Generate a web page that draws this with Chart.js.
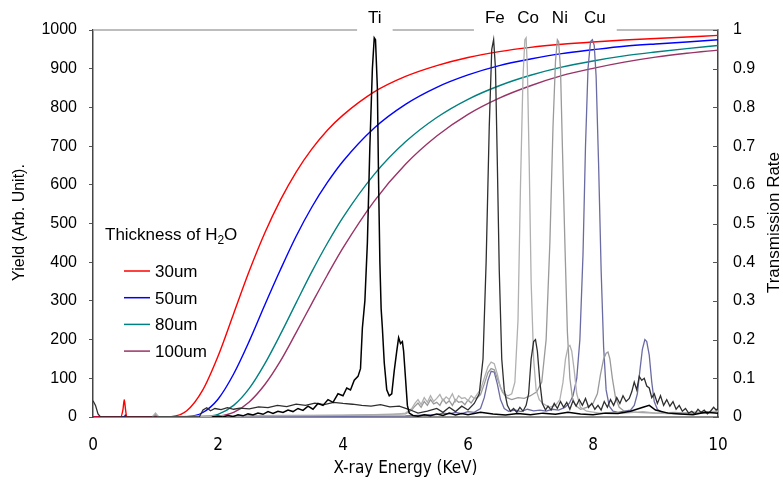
<!DOCTYPE html>
<html><head><meta charset="utf-8">
<script src="https://cdn.jsdelivr.net/npm/chart.js@4.4.1/dist/chart.umd.min.js"></script>
<style>html,body{margin:0;padding:0;background:#fff;}#wrap{width:783px;height:488px;}</style>
</head><body><div id="wrap"><canvas id="c" width="783" height="488"></canvas></div>
<script>
// ---------- DATA ----------
const energyGrid = [0,0.44,0.48,0.5,0.52,0.54,1.0,1.25,1.5,1.75,2.0,2.25,2.5,2.75,3.0,3.25,3.5,3.75,4.0,4.5,5.0,5.5,6.0,6.5,7.0,7.5,8.0,8.5,9.0,9.5,10];
const trans30  = [0,0,0.02,0.045,0.02,0, 0,0.001,0.016,0.068, 0.157,0.267,0.377,0.476,0.561,0.633,0.692,0.741,0.780, 0.840,0.880,0.908,0.929,0.944,0.955,0.963,0.969,0.974,0.978,0.982,0.986];
const trans50  = [0,0,0,0,0.005,0, 0,0,0.001,0.011, 0.046,0.111,0.196,0.290,0.381,0.467,0.542,0.606,0.661, 0.747,0.808,0.852,0.884,0.908,0.925,0.939,0.949,0.958,0.964,0.969,0.975];
const trans80  = [0,0,0,0,0,0, 0,0,0,0.001, 0.007,0.030,0.074,0.138,0.214,0.295,0.375,0.449,0.516, 0.627,0.711,0.774,0.821,0.856,0.883,0.904,0.920,0.933,0.943,0.952,0.960];
const trans100 = [0,0,0,0,0,0, 0,0,0,0, 0.002,0.012,0.039,0.084,0.145,0.218,0.293,0.367,0.437, 0.558,0.653,0.726,0.782,0.824,0.856,0.882,0.901,0.917,0.930,0.940,0.948];
const thicknessLabels = ['30um','50um','80um','100um'];

const tiE = [1.90,2.00,2.08,2.16,2.24,2.32,2.40,2.48,2.56,2.64,2.72,2.80,2.88,2.96,3.04,3.12,3.20,3.28,3.36,3.44,3.52,3.60,3.68,3.76,3.84,3.92,4.00,4.06,4.12,4.18,4.24,4.28,4.31,4.35,4.39,4.43,4.47,4.50,4.52,4.55,4.57,4.59,4.61,4.63,4.66,4.70,4.74,4.78,4.82,4.86,4.89,4.92,4.95,4.97,5.00,5.03,5.06,
  5.12,5.2,5.3,5.4,5.5,5.6,5.7,5.8,5.9,6.0,6.2,6.4,6.6,6.8,7.0,7.2,7.4,7.6,7.8,8.0,8.2,8.4,8.6,8.8,8.9,9.0,9.2,9.4,9.6,9.8,10.0];
const tiY = [0,2,0,4,1,6,3,8,5,10,7,14,9,15,12,18,14,22,17,28,20,35,30,45,38,60,55,75,70,95,105,125,230,300,450,700,900,980,975,850,600,400,280,230,140,70,55,60,120,170,205,190,195,170,100,30,10,
  4,2,6,3,8,4,10,5,9,6,12,8,5,9,6,10,7,12,8,6,10,9,15,25,30,18,10,8,6,12,10];

const feE = [0.00,0.04,0.08,0.12,1.70,1.76,1.82,1.88,1.95,2.05,2.15,2.25,2.35,2.50,2.65,2.80,2.95,3.10,3.25,3.40,3.55,3.70,3.85,4.00,4.15,4.30,4.45,4.60,4.75,4.90,5.05,5.20,5.35,5.50,5.60,5.70,5.80,5.90,6.00,6.10,6.18,6.24,6.29,6.34,6.38,6.41,6.44,6.47,6.50,6.54,6.58,6.63,6.68,6.73,6.78,6.83,6.88,6.93,6.97,7.01,7.05,7.08,7.11,7.15,7.19,7.24,
  7.28,7.33,7.38,7.43,7.48,7.53,7.58,7.63,7.68,7.73,7.78,7.83,7.88,7.93,7.98,8.03,8.08,8.13,8.18,8.23,8.28,8.33,8.38,8.43,8.48,8.53,8.58,8.62,8.66,8.70,8.74,8.78,8.82,8.86,8.90,8.94,8.98,9.03,9.08,9.13,9.18,9.23,9.28,9.33,9.38,9.43,9.48,9.53,9.58,9.63,9.68,9.73,9.78,9.83,9.88,9.93,9.97,10.0];
const feY = [42,30,8,0,0,18,24,16,22,19,24,20,23,21,26,24,30,27,33,30,36,32,38,35,33,30,28,32,26,28,20,10,15,22,12,25,14,28,18,35,60,150,400,750,950,975,900,650,380,150,70,30,15,22,12,25,15,30,60,150,195,200,170,90,35,18,
  28,18,35,22,40,25,38,20,42,28,45,30,48,25,35,20,30,18,40,25,45,30,50,35,55,40,48,65,90,70,105,95,100,80,75,50,60,35,55,30,45,28,40,20,30,15,22,10,15,8,20,12,18,8,15,25,18,22];

const coE = [0.95,1.00,1.05,2.0,3.0,4.0,4.8,5.0,5.1,5.15,5.2,5.25,5.3,5.35,5.4,5.45,5.5,5.55,5.6,5.65,5.7,5.75,5.8,5.85,5.9,5.95,6.0,6.05,6.1,6.15,6.2,6.26,6.32,6.37,6.42,6.47,6.52,6.58,6.64,6.70,6.75,6.80,6.84,6.88,6.91,6.93,6.95,6.98,7.01,7.05,7.09,7.14,7.2,7.3,7.4,7.47,7.52,7.56,7.6,7.63,7.66,7.7,7.74,7.8,7.9,8.1,8.3,8.5,8.8,9.0,9.3,9.6,10.0];
const coY = [0,10,0,2,4,5,6,10,22,35,45,32,50,38,55,40,48,58,42,52,45,60,40,55,48,50,42,55,48,60,70,100,130,142,138,110,75,60,55,60,90,250,600,880,975,980,900,650,350,150,70,45,35,25,30,45,90,150,180,185,170,120,60,25,15,10,12,10,14,10,8,12,15];

const niE = [0.95,1.00,1.05,2.0,3.0,4.0,5.0,5.1,5.15,5.2,5.25,5.3,5.35,5.4,5.45,5.5,5.55,5.6,5.65,5.7,5.75,5.8,5.85,5.9,5.95,6.0,6.05,6.1,6.15,6.2,6.26,6.32,6.37,6.42,6.48,6.55,6.62,6.7,6.8,6.9,7.0,7.1,7.18,7.25,7.31,7.36,7.40,7.43,7.45,7.48,7.51,7.55,7.59,7.63,7.67,7.72,7.8,7.9,8.0,8.07,8.12,8.17,8.21,8.24,8.27,8.31,8.36,8.42,8.5,8.7,9.0,9.3,9.6,10.0];
const niY = [0,8,0,3,3,4,8,18,28,36,25,40,30,45,34,38,30,46,35,42,30,45,38,40,32,44,36,48,50,58,85,115,125,122,95,65,50,45,50,48,55,65,90,200,450,750,920,975,970,900,700,450,220,100,50,30,20,25,35,60,110,150,165,168,150,100,50,25,15,12,10,12,9,14];

const cuE = [0.95,1.0,1.05,2.0,4.0,5.0,5.5,5.6,5.7,5.8,5.9,6.0,6.1,6.2,6.26,6.32,6.37,6.42,6.47,6.52,6.58,6.65,6.75,6.85,6.95,7.05,7.15,7.25,7.35,7.45,7.55,7.62,7.68,7.74,7.79,7.84,7.88,7.92,7.96,7.99,8.02,8.05,8.09,8.13,8.17,8.21,8.26,8.32,8.4,8.5,8.6,8.66,8.71,8.75,8.79,8.83,8.86,8.9,8.94,8.98,9.03,9.1,9.2,9.4,9.6,9.8,10.0];
const cuY = [0,6,0,0,2,3,6,10,8,12,9,14,12,22,50,95,118,116,85,45,22,15,18,14,20,16,18,15,20,18,25,35,55,100,200,420,700,900,970,975,960,880,650,380,180,70,28,15,12,15,18,30,60,120,175,200,195,160,90,40,20,12,10,8,12,10,15];

const elementLabels = ['Ti','Fe','Co','Ni','Cu'];
const elementLabelE = [4.51,6.43,6.96,7.47,8.03];
const xTicks = [0,2,4,6,8,10];
const yLeftTicks = [0,100,200,300,400,500,600,700,800,900,1000];
const yRightTicks = [0,0.1,0.2,0.3,0.4,0.5,0.6,0.7,0.8,0.9,1];

// ---------- STYLE ----------
const SANS = '"Liberation Sans", Arial, Helvetica, sans-serif';
const NARROW = '"Liberation Sans Narrow", "DejaVu Sans Condensed", "Liberation Sans", sans-serif';
const tColors = ['#ff0000','#0000ff','#008080','#993366'];
const specNames = ['Ti','Fe','Co','Ni','Cu'];
const specColors = ['#000000','#2e2e2e','#b0b0b0','#9a9a9a','#6b6ba3'];

function pts(xs, ys){ return xs.map((x,i)=>({x:x, y:ys[i]})); }

const transSeries = [trans30, trans50, trans80, trans100];
const specSeries = [[tiE,tiY],[feE,feY],[coE,coY],[niE,niY],[cuE,cuY]];

const datasets = [];
specSeries.forEach((s,i)=>{
  datasets.push({label:specNames[i], data:pts(s[0],s[1]), yAxisID:'y', borderColor:specColors[i],
    borderWidth: i===0?1.5:1.3, pointRadius:0, tension:0, order:1});
});
transSeries.forEach((s,i)=>{
  datasets.push({label:thicknessLabels[i], data:pts(energyGrid,s), yAxisID:'y2', borderColor:tColors[i],
    borderWidth:1.4, pointRadius:0, cubicInterpolationMode:'monotone', order:2});
});

const decor = {
  id:'decor',
  afterDraw(chart){
    const ctx = chart.ctx, ca = chart.chartArea, xs = chart.scales.x, y2 = chart.scales.y2;
    ctx.save();
    ctx.font = '17px ' + SANS;
    ctx.textAlign = 'center'; ctx.textBaseline = 'middle'; ctx.fillStyle = '#000';
    const gaps = [];
    elementLabels.forEach((t,i)=>{
      const px = xs.getPixelForValue(elementLabelE[i]);
      const w = ctx.measureText(t).width;
      gaps.push([px - w/2 - 11, px + w/2 + 11]);
      ctx.fillText(t, px, ca.top - 12);
    });
    gaps.sort((a,b)=>a[0]-b[0]);
    ctx.strokeStyle = '#a8a8a8'; ctx.lineWidth = 1.5;
    ctx.beginPath();
    let cur = ca.left;
    gaps.forEach(g=>{ if (g[0] > cur){ ctx.moveTo(cur, ca.top); ctx.lineTo(g[0], ca.top);} cur = Math.max(cur, g[1]); });
    if (cur < ca.right){ ctx.moveTo(cur, ca.top); ctx.lineTo(ca.right, ca.top); }
    ctx.stroke();
    ctx.strokeStyle = '#555'; ctx.lineWidth = 1;
    ctx.beginPath();
    yRightTicks.forEach(v=>{ const y = Math.round(y2.getPixelForValue(v)) + 0.5; ctx.moveTo(ca.right - 5, y); ctx.lineTo(ca.right, y); });
    ctx.stroke();
    ctx.fillStyle = '#000';
    ctx.font = '16px ' + SANS;
    ctx.save(); ctx.translate(20, (ca.top + ca.bottom)/2 - 1); ctx.rotate(-Math.PI/2);
    ctx.textAlign = 'center'; ctx.textBaseline = 'middle'; ctx.fillText('Yield (Arb. Unit).', 0, 0); ctx.restore();
    ctx.font = '17px ' + SANS;
    ctx.save(); ctx.translate(774, (ca.top + ca.bottom)/2 - 1); ctx.rotate(-Math.PI/2);
    ctx.textAlign = 'center'; ctx.textBaseline = 'middle'; ctx.fillText('Transmission Rate', 0, 0); ctx.restore();
    ctx.font = '17px ' + NARROW;
    ctx.textAlign = 'center'; ctx.textBaseline = 'middle';
    ctx.fillText('X-ray Energy (KeV)', (ca.left + ca.right)/2, ca.bottom + 52);
    const lx = ca.left + 12;
    ctx.textAlign = 'left'; ctx.textBaseline = 'alphabetic';
    ctx.font = '17px ' + SANS;
    const tBase = ca.top + 210;
    const p1 = 'Thickness of H';
    ctx.fillText(p1, lx, tBase);
    const w1 = ctx.measureText(p1).width;
    ctx.font = '12px ' + SANS;
    ctx.fillText('2', lx + w1, tBase + 4);
    const w2 = ctx.measureText('2').width;
    ctx.font = '17px ' + SANS;
    ctx.fillText('O', lx + w1 + w2, tBase);
    thicknessLabels.forEach((lab,i)=>{
      const yc = ca.top + 241 + i*26.7;
      ctx.strokeStyle = tColors[i]; ctx.lineWidth = 1.5;
      ctx.beginPath(); ctx.moveTo(lx + 19, yc); ctx.lineTo(lx + 45, yc); ctx.stroke();
      ctx.fillStyle = '#000';
      ctx.fillText(lab, lx + 50, yc + 6);
    });
    ctx.restore();
  }
};

new Chart(document.getElementById('c'), {
  type:'line',
  data:{datasets:datasets},
  options:{
    responsive:false, animation:false, events:[],
    layout:{padding:{top:30, left:0, right:0, bottom:0}},
    plugins:{legend:{display:false}, tooltip:{enabled:false}},
    scales:{
      x:{type:'linear', min:0, max:10,
        afterFit:s=>{ s.height = 71; },
        afterBuildTicks:s=>{ s.ticks = xTicks.map(v=>({value:v})); },
        grid:{display:false, drawTicks:false},
        border:{display:true, color:'#8c8c8c', width:2},
        ticks:{padding:18, color:'#000', font:{family:NARROW, size:17}, maxRotation:0, autoSkip:false, callback:v=>String(v)}},
      y:{type:'linear', position:'left', min:0, max:1000,
        afterFit:s=>{ s.width = 93; },
        afterBuildTicks:s=>{ s.ticks = yLeftTicks.map(v=>({value:v})); },
        grid:{display:true, drawOnChartArea:false, drawTicks:true, tickLength:4, color:'#555', lineWidth:1},
        border:{display:true, color:'#444', width:1.5},
        ticks:{padding:12, color:'#000', font:{family:SANS, size:16}, callback:v=>String(v)}},
      y2:{type:'linear', position:'right', min:0, max:1,
        afterFit:s=>{ s.width = 65; },
        afterBuildTicks:s=>{ s.ticks = yRightTicks.map(v=>({value:v})); },
        grid:{display:false, drawTicks:false},
        border:{display:true, color:'#444', width:1.5},
        ticks:{padding:15, color:'#000', font:{family:SANS, size:16}, callback:v=>String(v)}}
    }
  },
  plugins:[decor]
});
</script></body></html>
